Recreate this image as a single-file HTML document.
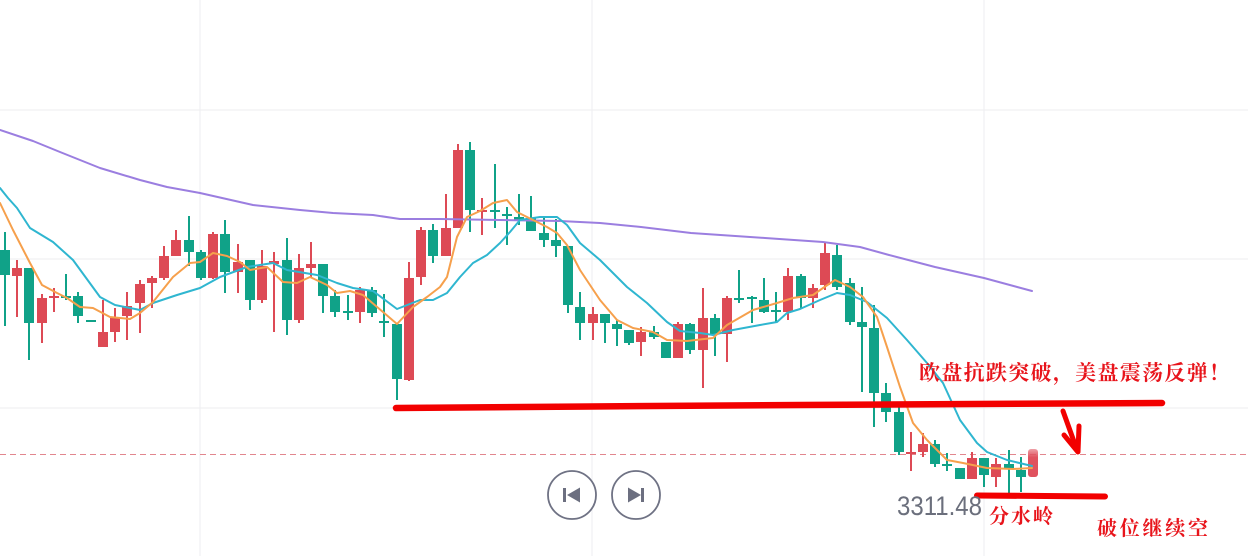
<!DOCTYPE html>
<html><head><meta charset="utf-8"><style>
html,body{margin:0;padding:0;background:#fff;}
svg{display:block;}
</style></head><body>
<svg width="1248" height="556" viewBox="0 0 1248 556" xmlns="http://www.w3.org/2000/svg">
<defs>
<linearGradient id="fade" x1="0" y1="0" x2="0" y2="1">
<stop offset="0" stop-color="#e0525e" stop-opacity="0.55"/>
<stop offset="0.3" stop-color="#e0525e" stop-opacity="1"/>
<stop offset="1" stop-color="#e0525e" stop-opacity="1"/>
</linearGradient>
</defs>
<rect width="1248" height="556" fill="#fff"/>
<g stroke="#f0f0f2" stroke-width="1.2">
<line x1="0" y1="110" x2="1248" y2="110"/>
<line x1="0" y1="259" x2="1248" y2="259"/>
<line x1="0" y1="408" x2="1248" y2="408"/>
<line x1="200" y1="0" x2="200" y2="556"/>
<line x1="592" y1="0" x2="592" y2="556"/>
<line x1="984" y1="0" x2="984" y2="556"/>
</g>
<line x1="0" y1="454.5" x2="1248" y2="454.5" stroke="#e2868e" stroke-width="1" stroke-dasharray="6 4"/>
<g fill="#dd4a55">
<rect x="16" y="260" width="2" height="57"/><rect x="12" y="268" width="10" height="8"/>
<rect x="41" y="294" width="2" height="49"/><rect x="37" y="298" width="10" height="25"/>
<rect x="53" y="288" width="2" height="24"/><rect x="49" y="296" width="10" height="2"/>
<rect x="102" y="300" width="2" height="47"/><rect x="98" y="332" width="10" height="15"/>
<rect x="114" y="308" width="2" height="34"/><rect x="110" y="317" width="10" height="15"/>
<rect x="126" y="292" width="2" height="48"/><rect x="122" y="306" width="10" height="10"/>
<rect x="139" y="280" width="2" height="53"/><rect x="135" y="284" width="10" height="19"/>
<rect x="151" y="276" width="2" height="32"/><rect x="147" y="278" width="10" height="5"/>
<rect x="163" y="246" width="2" height="34"/><rect x="159" y="256" width="10" height="22"/>
<rect x="175" y="230" width="2" height="26"/><rect x="171" y="240" width="10" height="16"/>
<rect x="212" y="232" width="2" height="47"/><rect x="208" y="234" width="10" height="44"/>
<rect x="237" y="244" width="2" height="49"/><rect x="233" y="262" width="10" height="10"/>
<rect x="261" y="250" width="2" height="53"/><rect x="257" y="266" width="10" height="34"/>
<rect x="273" y="252" width="2" height="80"/><rect x="269" y="261" width="10" height="3"/>
<rect x="298" y="254" width="2" height="69"/><rect x="294" y="268" width="10" height="52"/>
<rect x="310" y="242" width="2" height="35"/><rect x="306" y="264" width="10" height="4"/>
<rect x="359" y="287" width="2" height="36"/><rect x="355" y="290" width="10" height="22"/>
<rect x="408" y="262" width="2" height="119"/><rect x="404" y="278" width="10" height="102"/>
<rect x="420" y="227" width="2" height="58"/><rect x="416" y="230" width="10" height="47"/>
<rect x="445" y="194" width="2" height="62"/><rect x="441" y="228" width="10" height="28"/>
<rect x="457" y="144" width="2" height="84"/><rect x="453" y="150" width="10" height="78"/>
<rect x="481" y="198" width="2" height="37"/><rect x="477" y="210" width="10" height="2"/>
<rect x="592" y="307" width="2" height="33"/><rect x="588" y="314" width="10" height="9"/>
<rect x="640" y="327" width="2" height="29"/><rect x="636" y="332" width="10" height="10"/>
<rect x="677" y="322" width="2" height="36"/><rect x="673" y="324" width="10" height="34"/>
<rect x="702" y="288" width="2" height="100"/><rect x="698" y="318" width="10" height="32"/>
<rect x="726" y="296" width="2" height="66"/><rect x="722" y="298" width="10" height="36"/>
<rect x="787" y="268" width="2" height="52"/><rect x="783" y="276" width="10" height="36"/>
<rect x="812" y="284" width="2" height="24"/><rect x="808" y="288" width="10" height="10"/>
<rect x="824" y="243" width="2" height="47"/><rect x="820" y="253" width="10" height="32"/>
<rect x="910" y="432" width="2" height="39"/><rect x="906" y="452" width="10" height="2"/>
<rect x="922" y="433" width="2" height="24"/><rect x="918" y="444" width="10" height="8"/>
<rect x="971" y="452" width="2" height="27"/><rect x="967" y="458" width="10" height="21"/>
<rect x="995" y="458" width="2" height="29"/><rect x="991" y="464" width="10" height="13"/>
<rect x="1028" y="449" width="10" height="28" rx="3" fill="url(#fade)"/>
</g>
<g fill="#10a288">
<rect x="4" y="232" width="2" height="94"/><rect x="0" y="250" width="10" height="25"/>
<rect x="28" y="268" width="2" height="92"/><rect x="24" y="268" width="10" height="55"/>
<rect x="65" y="274" width="2" height="26"/><rect x="61" y="296" width="10" height="2"/>
<rect x="77" y="292" width="2" height="31"/><rect x="73" y="296" width="10" height="20"/>
<rect x="86" y="320" width="10" height="2"/>
<rect x="188" y="216" width="2" height="50"/><rect x="184" y="240" width="10" height="12"/>
<rect x="200" y="250" width="2" height="30"/><rect x="196" y="252" width="10" height="26"/>
<rect x="224" y="220" width="2" height="73"/><rect x="220" y="234" width="10" height="38"/>
<rect x="249" y="260" width="2" height="50"/><rect x="245" y="260" width="10" height="40"/>
<rect x="286" y="238" width="2" height="97"/><rect x="282" y="260" width="10" height="60"/>
<rect x="322" y="264" width="2" height="49"/><rect x="318" y="264" width="10" height="32"/>
<rect x="334" y="290" width="2" height="27"/><rect x="330" y="296" width="10" height="16"/>
<rect x="347" y="295" width="2" height="25"/><rect x="343" y="311" width="10" height="2"/>
<rect x="371" y="287" width="2" height="30"/><rect x="367" y="290" width="10" height="23"/>
<rect x="383" y="294" width="2" height="43"/><rect x="379" y="321" width="10" height="2"/>
<rect x="396" y="324" width="2" height="76"/><rect x="392" y="324" width="10" height="55"/>
<rect x="432" y="224" width="2" height="39"/><rect x="428" y="230" width="10" height="26"/>
<rect x="469" y="142" width="2" height="90"/><rect x="465" y="150" width="10" height="60"/>
<rect x="494" y="164" width="2" height="64"/><rect x="490" y="210" width="10" height="2"/>
<rect x="506" y="207" width="2" height="38"/><rect x="502" y="214" width="10" height="2"/>
<rect x="518" y="194" width="2" height="31"/><rect x="514" y="217" width="10" height="3"/>
<rect x="530" y="196" width="2" height="34"/><rect x="526" y="218" width="10" height="13"/>
<rect x="543" y="216" width="2" height="31"/><rect x="539" y="233" width="10" height="7"/>
<rect x="555" y="219" width="2" height="38"/><rect x="551" y="240" width="10" height="6"/>
<rect x="567" y="246" width="2" height="67"/><rect x="563" y="246" width="10" height="59"/>
<rect x="579" y="292" width="2" height="48"/><rect x="575" y="307" width="10" height="16"/>
<rect x="604" y="314" width="2" height="29"/><rect x="600" y="314" width="10" height="9"/>
<rect x="616" y="320" width="2" height="26"/><rect x="612" y="324" width="10" height="5"/>
<rect x="628" y="330" width="2" height="15"/><rect x="624" y="330" width="10" height="13"/>
<rect x="653" y="326" width="2" height="13"/><rect x="649" y="332" width="10" height="5"/>
<rect x="665" y="342" width="2" height="16"/><rect x="661" y="342" width="10" height="16"/>
<rect x="689" y="323" width="2" height="31"/><rect x="685" y="324" width="10" height="26"/>
<rect x="714" y="314" width="2" height="42"/><rect x="710" y="318" width="10" height="16"/>
<rect x="738" y="270" width="2" height="33"/><rect x="734" y="298" width="10" height="2"/>
<rect x="751" y="296" width="2" height="27"/><rect x="747" y="297" width="10" height="2"/>
<rect x="763" y="278" width="2" height="35"/><rect x="759" y="300" width="10" height="12"/>
<rect x="775" y="292" width="2" height="31"/><rect x="771" y="310" width="10" height="2"/>
<rect x="800" y="274" width="2" height="34"/><rect x="796" y="276" width="10" height="22"/>
<rect x="836" y="245" width="2" height="45"/><rect x="832" y="255" width="10" height="32"/>
<rect x="849" y="278" width="2" height="47"/><rect x="845" y="283" width="10" height="39"/>
<rect x="861" y="287" width="2" height="105"/><rect x="857" y="322" width="10" height="5"/>
<rect x="873" y="305" width="2" height="122"/><rect x="869" y="328" width="10" height="65"/>
<rect x="885" y="383" width="2" height="39"/><rect x="881" y="393" width="10" height="19"/>
<rect x="898" y="405" width="2" height="50"/><rect x="894" y="412" width="10" height="40"/>
<rect x="934" y="440" width="2" height="27"/><rect x="930" y="444" width="10" height="20"/>
<rect x="946" y="453" width="2" height="18"/><rect x="942" y="464" width="10" height="2"/>
<rect x="959" y="468" width="2" height="11"/><rect x="955" y="468" width="10" height="11"/>
<rect x="983" y="458" width="2" height="29"/><rect x="979" y="458" width="10" height="17"/>
<rect x="1008" y="450" width="2" height="43"/><rect x="1004" y="464" width="10" height="5"/>
<rect x="1020" y="457" width="2" height="35"/><rect x="1016" y="470" width="10" height="7"/>
</g>
<g fill="none" stroke-width="2" stroke-linejoin="round" stroke-linecap="round">
<polyline stroke="#9b7ee0" points="0,130 33,141 60,152 80,160 100,168 140,180 167,187 200,193 253,205 300,210 333,213 373,215 400,219 440,219 500,220 560,221 600,223 641,227 691,233 765,238 823,242 860,247 889,255 935,267 984,278 1032,291"/>
<polyline stroke="#2fb6d0" points="0,188 8,198 17,208 30,228 53,242 73,260 100,297 115,305 140,310 153,303 177,295 200,288 220,277 247,267 273,263 287,270 317,275 337,283 353,288 373,291 397,309 420,300 433,300 447,293 460,277 473,263 487,255 500,243 510,232 520,220 540,217 557,217 567,225 580,243 600,260 627,287 647,303 667,322 680,331 700,333 713,335 733,330 760,325 777,322 787,313 800,309 820,300 837,293 850,295 867,302 887,318 907,340 927,363 943,383 960,420 977,443 987,452 1007,460 1032,466"/>
<polyline stroke="#f6a04c" points="0,203 13,230 30,263 42,285 57,293 67,298 80,307 93,308 110,317 130,319 140,313 153,302 173,277 190,263 200,262 213,253 227,256 240,262 250,270 267,267 283,282 297,283 310,277 327,285 337,293 350,291 363,295 383,312 397,324 413,307 427,297 440,287 447,277 457,237 467,217 480,211 493,203 507,200 517,212 533,220 547,227 557,233 567,245 580,270 600,300 617,320 633,328 653,332 667,340 687,341 713,338 727,325 753,310 777,303 793,298 813,295 823,288 835,280 850,287 863,297 877,317 887,347 900,387 913,423 927,440 947,460 963,463 987,468 1013,469 1032,468"/>
</g>
<g stroke="#f20000" fill="none" stroke-linecap="round" stroke-linejoin="round">
<polyline stroke-width="6.5" points="396,408 590,406.5 800,405 1162,403"/>
<line x1="977" y1="495.5" x2="1105" y2="496.5" stroke-width="6"/>
<line x1="1063" y1="411" x2="1077" y2="450" stroke-width="5"/>
<polyline stroke-width="5" points="1064,435 1078,452 1079,426"/>
</g>
<circle cx="572" cy="495" r="24" fill="#fff" stroke="#6f7284" stroke-width="1.8"/>
<circle cx="636" cy="495" r="24" fill="#fff" stroke="#6f7284" stroke-width="1.8"/>
<rect x="563" y="488" width="3" height="14" fill="#6c6f80"/>
<polygon points="567,495 580,487.5 580,502.5" fill="#6c6f80"/>
<polygon points="628,487.5 641,495 628,502.5" fill="#6c6f80"/>
<rect x="641" y="488" width="3" height="14" fill="#6c6f80"/>
<text x="897" y="515" font-family="Liberation Sans, sans-serif" font-size="27" fill="#6b6f7c" textLength="85" lengthAdjust="spacingAndGlyphs">3311.48</text>
<g font-family="'Liberation Serif','Noto Serif CJK SC',serif" font-weight="bold" fill="#e8141b">
<text x="919" y="380" font-size="21" textLength="311" lengthAdjust="spacing">欧盘抗跌突破，美盘震荡反弹！</text>
<text x="989" y="523" font-size="20" textLength="64" lengthAdjust="spacing">分水岭</text>
<text x="1097" y="535" font-size="20" textLength="111" lengthAdjust="spacing">破位继续空</text>
</g>
</svg>
</body></html>
